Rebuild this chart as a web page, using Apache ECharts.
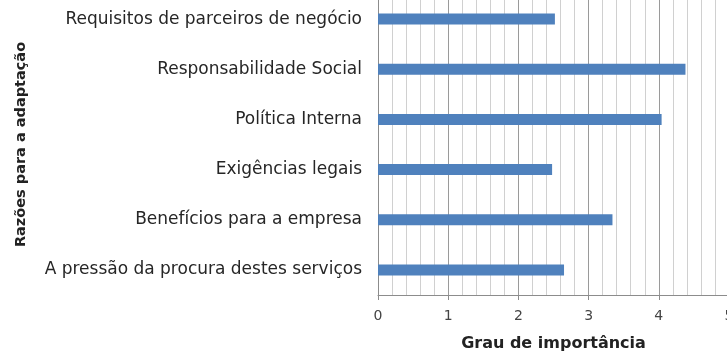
<!DOCTYPE html>
<html>
<head>
<meta charset="utf-8">
<script src="https://cdn.jsdelivr.net/npm/echarts@6/dist/echarts.min.js"></script>
<style>
  html, body { margin: 0; padding: 0; background: #fff; }
  #chart { width: 727px; height: 352px; }
</style>
</head>
<body>
<div id="chart"></div>
<script>
// Reasons for adaptation and their rated importance (0–5)
const categories = [
  'Requisitos de parceiros de negócio',
  'Responsabilidade Social',
  'Política Interna',
  'Exigências legais',
  'Benefícios para a empresa',
  'A pressão da procura destes serviços'
];
const importance = [2.52, 4.38, 4.04, 2.48, 3.34, 2.65];
const xTicks = [0, 1, 2, 3, 4, 5];

const chart = echarts.init(document.getElementById('chart'));
chart.setOption({
  animation: false,
  grid: { left: 378, right: -2, top: -6, bottom: 57, outerBoundsMode: 'none', containLabel: false },
  xAxis: {
    type: 'value',
    min: xTicks[0],
    max: xTicks[xTicks.length - 1],
    interval: 1,
    name: 'Grau de importância',
    nameLocation: 'middle',
    nameGap: 41,
    nameTextStyle: { fontFamily: 'DejaVu Sans', fontWeight: 'bold', fontSize: 16, color: '#222' },
    axisLine: { show: true, lineStyle: { color: '#8c8c8c', width: 1 } },
    axisTick: { show: true, length: 5, lineStyle: { color: '#8c8c8c' } },
    axisLabel: { fontFamily: 'DejaVu Sans', fontSize: 14, color: '#444', margin: 14 },
    splitLine: { show: true, lineStyle: { color: '#9a9a9a', width: 1 } },
    minorTick: { show: false, splitNumber: 5 },
    minorSplitLine: { show: true, lineStyle: { color: '#d0d0d0', width: 1 } }
  },
  yAxis: {
    type: 'category',
    data: categories,
    inverse: true,
    name: 'Razões para a adaptação',
    nameLocation: 'middle',
    nameGap: 349,
    nameRotate: 90,
    nameTextStyle: { fontFamily: 'DejaVu Sans', fontWeight: 'bold', fontSize: 14.5, color: '#222' },
    axisLine: { show: true, lineStyle: { color: '#8c8c8c', width: 1 } },
    axisTick: { show: false },
    axisLabel: { fontFamily: 'DejaVu Sans', fontSize: 17, color: '#262626', margin: 16 },
    splitLine: { show: false }
  },
  series: [{
    type: 'bar',
    data: importance,
    barWidth: 11,
    itemStyle: { color: '#4f81bd' }
  }]
});
</script>
</body>
</html>
